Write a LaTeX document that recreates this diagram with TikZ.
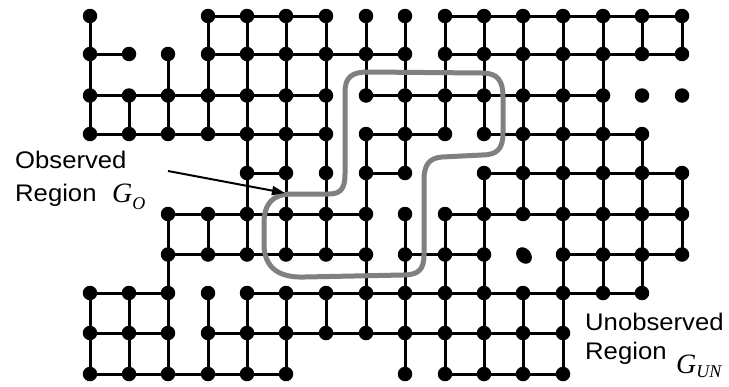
\documentclass[tikz,border=0pt]{standalone}
\usepackage{fontspec}
\setmainfont{Liberation Sans}
\newfontfamily\labfont{Liberation Sans}[FakeStretch=1.07]
\newfontfamily\gfont{Liberation Serif}
\usetikzlibrary{arrows.meta,shapes.geometric}
\begin{document}
\begin{tikzpicture}[x=1pt,y=-1pt,
  dot/.style={circle,fill=black,inner sep=0pt,minimum size=14.5pt},
  edge/.style={line width=3pt,black},
  region/.style={draw=gray,line width=5pt},
  lab/.style={font=\labfont\fontsize{24}{24}\selectfont,inner sep=0pt,anchor=base west},
  glab/.style={font=\gfont\itshape\fontsize{28}{28}\selectfont,inner sep=0pt,anchor=base west},
  pointer/.style={line width=2pt,-{Triangle[length=13pt,width=9pt]}}]
\useasboundingbox (0,0) rectangle (729,386);
\def\cx{{90,129,168,208,247,286,326,366,405,445,484,523,563,603,642,682}}
\def\ry{{16,54,95.5,134,173,214,254.5,293,333,374}}
% grid coordinates
\foreach \c in {0,...,15}{
  \foreach \r in {0,...,9}{
    \pgfmathsetmacro\xx{\cx[\c]}
    \pgfmathsetmacro\yy{\ry[\r]}
    \coordinate (p-\c-\r) at (\xx,\yy);
  }
}
% horizontal connectors
\foreach \r/\cols in {0/{3,4,5,9,10,11,12,13,14},
                      1/{0,3,4,5,6,7,9,10,11,12,13,14},
                      2/{0,1,2,3,4,5,7,8,9,10,11,12},
                      3/{0,1,2,3,4,5,7,8,10,11,12,13},
                      4/{4,7,10,11,12,13,14},
                      5/{2,3,4,5,6,9,10,11,12,13,14},
                      6/{2,3,4,5,6,8,9,12,13,14},
                      7/{0,1,4,5,6,7,8,9,10,11,12,13},
                      8/{0,1,3,4,5,6,7,8,9,10,11},
                      9/{0,1,2,3,4,9,10,11}}{
  \foreach \c in \cols{
    \pgfmathtruncatemacro\d{\c+1}
    \draw[edge] (p-\c-\r) -- (p-\d-\r);
  }
}
% vertical connectors
\foreach \c/\rows in {0/{0,1,2,7,8},
                      1/{2,7,8},
                      2/{1,2,5,6,7,8},
                      3/{0,1,2,5,7,8},
                      4/{0,1,2,3,4,5,7,8},
                      5/{0,1,2,3,4,5,7,8},
                      6/{0,1,2,3,4,5,7},
                      7/{0,1,3,4,5,6,7},
                      8/{0,1,2,3,5,6,7,8},
                      9/{0,1,2,5,6,7,8},
                      10/{0,1,2,4,5,6,7,8},
                      11/{0,1,2,3,4,7,8},
                      12/{0,1,2,3,4,5,6,7,8},
                      13/{0,1,2,3,4,5,6},
                      14/{0,3,4,5,6},
                      15/{0,4,5}}{
  \foreach \r in \rows{
    \pgfmathtruncatemacro\s{\r+1}
    \draw[edge] (p-\c-\r) -- (p-\c-\s);
  }
}
% observed region outline
\draw[region] (345,120) -- (345,92) .. controls (345,77) and (352,72) .. (368,72)
  -- (482,73) .. controls (498,73) and (503,81) .. (503,97)
  -- (503,133) .. controls (503,149) and (497,155) .. (482,155)
  -- (442,157) .. controls (429,158) and (424,165) .. (424,180)
  -- (424,255) .. controls (424,270) and (418,275) .. (403,275)
  -- (305,277) .. controls (279,278) and (265,268) .. (264,246)
  -- (264,224) .. controls (264,203) and (273,194) .. (292,194)
  -- (329,194) .. controls (341,194) and (345,188) .. (345,174) -- cycle;
% dots
\foreach \r/\cols in {0/{0,3,4,...,15},
                      1/{0,...,15},
                      2/{0,...,15},
                      3/{0,...,14},
                      4/{4,5,6,7,8,10,11,12,13,14,15},
                      5/{2,...,15},
                      6/{2,...,10,12,13,14,15},
                      7/{0,...,14},
                      8/{0,...,12},
                      9/{0,1,2,3,4,5,8,9,10,11,12}}{
  \foreach \c in \cols{
    \node[dot] (n-\c-\r) at (p-\c-\r) {};
  }
}
\node[dot,ellipse,minimum width=18pt,minimum height=14pt,rotate=-50] (n-11-6) at ([xshift=1pt,yshift=-1pt]p-11-6) {};
% labels
\node[lab] (obs1) at (15,168) {Observed};
\node[lab] (obs2) at (15,201) {Region};
\node[glab] (go) at (112,202) {G\raisebox{-7pt}{\fontsize{18}{18}\selectfont O}};
\node[lab] (un1) at (585,330) {Unobserved};
\node[lab] (un2) at (585,359) {Region};
\node[glab] (gun) at (676,373) {G\raisebox{-4.5pt}{\fontsize{18}{18}\selectfont UN}};
% pointer
\coordinate (aS) at (168,171);
\coordinate (aE) at (285,193);
\draw[pointer] (aS) -- (aE);
\end{tikzpicture}
\end{document}
